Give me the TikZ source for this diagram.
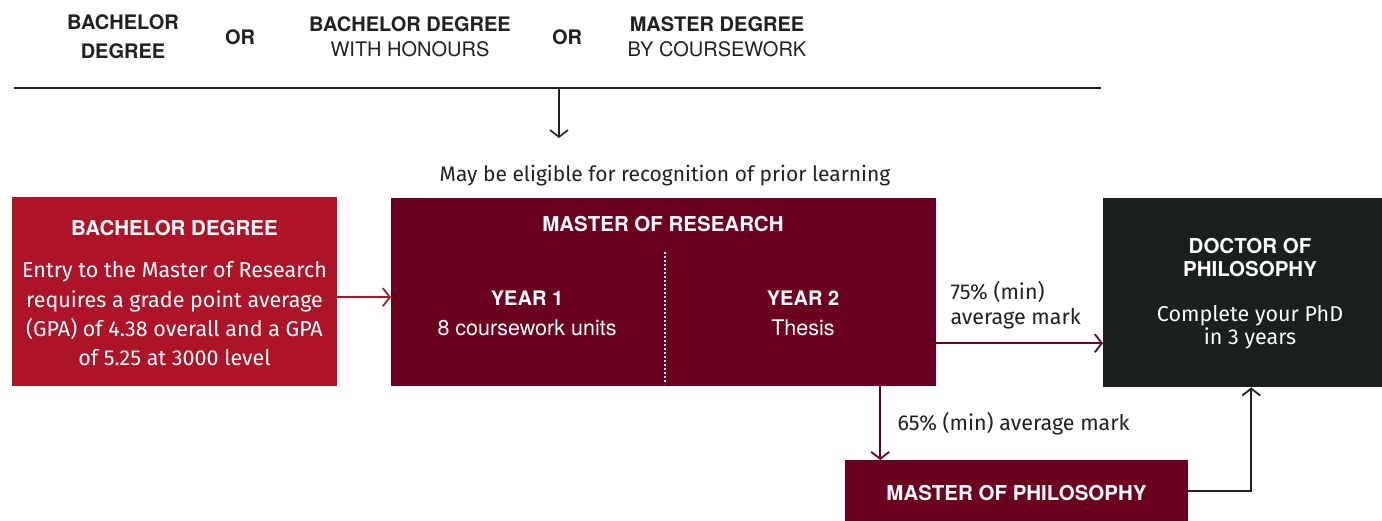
\documentclass[tikz,border=0pt]{standalone}
\usepackage{fontspec}
\setmainfont{Fira Sans}
\newfontfamily\headfont{TeX Gyre Heros}
\usetikzlibrary{arrows.meta}
\definecolor{redbox}{HTML}{AE1428}
\definecolor{maroon}{HTML}{6B0020}
\definecolor{darkbox}{HTML}{1A201E}
\definecolor{ink}{HTML}{1E2220}

\begin{document}
\begin{tikzpicture}[x=1pt, y=-1pt,
    box/.style={anchor=north west, inner sep=0pt},
    head/.style={font=\headfont\fontsize{20}{29}\selectfont, text=ink, align=center},
    title/.style={font=\headfont\bfseries\fontsize{20.5}{23}\selectfont, text=white, align=center},
    body/.style={font=\fontsize{21.5}{29.3}\selectfont, text=white, align=center},
    year/.style={font=\headfont\fontsize{21.5}{30}\selectfont, text=white, align=center},
    note/.style={font=\fontsize{21.5}{25}\selectfont, text=ink},
    arr/.style={-{Straight Barb[length=7pt,width=18pt]}, line width=1.8pt}]
    \useasboundingbox (0,0) rectangle (1382,521);

    % Titulos de entrada
    \node[head] (hbach) at (123,37) {\textbf{BACHELOR}\\\textbf{DEGREE}};
    \node[head] (or1) at (240,37) {\textbf{OR}};
    \node[head] (hhons) at (410,37) {\textbf{BACHELOR DEGREE}\\[-4pt]WITH HONOURS};
    \node[head] (or2) at (567,37) {\textbf{OR}};
    \node[head] (hmast) at (717,37) {\textbf{MASTER DEGREE}\\[-4pt]BY COURSEWORK};

    % Linea y flecha hacia abajo
    \coordinate (lineL) at (14,88);
    \coordinate (lineR) at (1101,88);
    \coordinate (split) at (559,88);
    \coordinate (splitend) at (559,138);
    \draw[line width=2pt, ink] (lineL) -- (lineR);
    \draw[arr, ink, line width=1.6pt] (split) -- (splitend);
    \node[note, font=\fontsize{21}{25}\selectfont] (rpl) at (665,176) {May be eligible for recognition of prior learning};

    % Caja del grado
    \node[box, fill=redbox, minimum width=325, minimum height=189] (bach) at (12,197) {};
    \node[title] (bachT) at (174.5,228) {BACHELOR DEGREE};
    \node[body] (bachB) at (174.5,314) {Entry to the Master of Research\\requires a grade point average\\(GPA) of 4.38 overall and a GPA\\of 5.25 at 3000 level};

    % Caja del master de investigacion
    \node[box, fill=maroon, minimum width=545, minimum height=188] (mres) at (391,198) {};
    \node[title] (mresT) at (663,224) {MASTER OF RESEARCH};
    \coordinate (divtop) at (665,252);
    \coordinate (divbot) at (665,384);
    \draw[white, line width=1.6pt, dash pattern=on 1.6pt off 2.4pt] (divtop) -- (divbot);
    \node[year] (year1) at (527,313) {{\fontsize{20}{30}\selectfont\bfseries YEAR 1}\\8 coursework units};
    \node[year] (year2) at (803,313) {{\fontsize{20}{30}\selectfont\bfseries YEAR 2}\\Thesis};

    % Caja del doctorado
    \node[box, fill=darkbox, minimum width=279, minimum height=189] (phd) at (1103,198) {};
    \node[title] (phdT) at (1250,258) {DOCTOR OF\\PHILOSOPHY};
    \node[body, font=\fontsize{21.5}{23}\selectfont] (phdB) at (1250,327) {Complete your PhD\\in 3 years};

    % Caja del master de filosofia
    \node[box, fill=maroon, minimum width=343, minimum height=61] (mphil) at (845,460) {};
    \node[title] (mphilT) at (1016.5,493) {MASTER OF PHILOSOPHY};

    % Flechas
    \draw[arr, redbox] ([yshift=-5.5pt]bach.east) -- ([yshift=-5pt]mres.west);
    \draw[arr, maroon] ([yshift=-51pt]mres.east) -- ([yshift=-50.5pt]phd.west);
    \node[note, align=left, anchor=west] (lab75) at (947,305.5) {75\% (min)\\average mark};
    \draw[arr, maroon] ([xshift=216.5pt]mres.south) -- ([xshift=-136.5pt]mphil.north);
    \node[note, anchor=west] (lab65) at (894,424) {65\% (min) average mark};
    \draw[arr, ink] (mphil.east) -| ([xshift=8.5pt]phd.south);
  \end{tikzpicture}
\end{document}
